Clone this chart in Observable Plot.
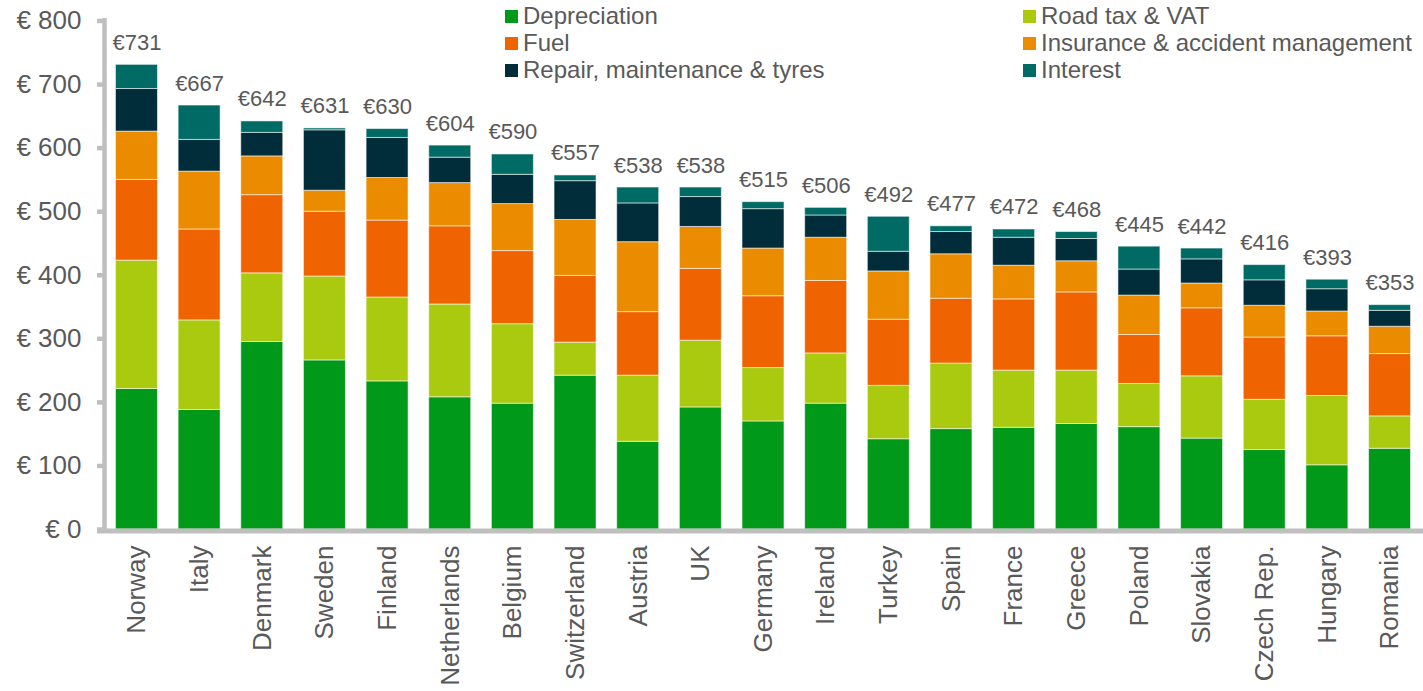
<!DOCTYPE html>
<html>
<head>
<meta charset="utf-8">
<script src="https://cdn.jsdelivr.net/npm/d3@7"></script>
<script src="https://cdn.jsdelivr.net/npm/@observablehq/plot@0.6"></script>
<style>
  html, body { margin: 0; padding: 0; background: #ffffff; }
  #wrap { position: relative; width: 1423px; height: 691px; font-family: "Liberation Sans", Arial, sans-serif; }
  #legend { position: absolute; left: 0; top: 0; width: 1423px; height: 90px; pointer-events: none; }
  .item { position: absolute; display: flex; align-items: center; font-size: 24px; color: #595959; height: 27px; white-space: nowrap; }
  .sw { width: 13px; height: 13px; margin-right: 5px; flex: none; }
</style>
</head>
<body>
<div id="wrap"><div id="legend"></div></div>
<script>
const countries = ["Norway","Italy","Denmark","Sweden","Finland","Netherlands","Belgium","Switzerland","Austria","UK","Germany","Ireland","Turkey","Spain","France","Greece","Poland","Slovakia","Czech Rep.","Hungary","Romania"];
const seriesNames = ["Depreciation","Road tax & VAT","Fuel","Insurance & accident management","Repair, maintenance & tyres","Interest"];
const seriesColors = ["#00991a","#aaca0f","#ef6400","#eb8b00","#012c39","#006b64"];
const depreciation = [221,188,295,266,233,208,198,242,138,192,170,198,142,158,160,166,161,143,125,101,127];
const roadTax      = [202,141,108,132,132,146,125, 52,104,105, 84, 79, 84,103, 90, 84, 68, 98, 79,109, 51];
const fuel         = [127,143,123,102,121,123,115,105,100,113,113,114,104,102,112,123, 77,107, 98, 94, 98];
const insurance    = [ 76, 91, 61, 33, 67, 68, 74, 88,110, 66, 75, 68, 76, 70, 53, 49, 62, 39, 50, 39, 43];
const repair       = [ 67, 50, 37, 95, 63, 40, 46, 61, 61, 47, 62, 35, 31, 35, 44, 35, 41, 38, 40, 35, 25];
const interest     = [ 38, 54, 18,  3, 14, 19, 32,  9, 25, 15, 11, 12, 55,  9, 13, 11, 36, 17, 24, 15,  9];
const totals       = [731,667,642,631,630,604,590,557,538,538,515,506,492,477,472,468,445,442,416,393,353];
const yTicks = [0,100,200,300,400,500,600,700,800];
// legend layout: column 1 then column 2
const legendCol1 = ["Depreciation","Fuel","Repair, maintenance & tyres"];
const legendCol2 = ["Road tax & VAT","Insurance & accident management","Interest"];

const seriesValues = [depreciation, roadTax, fuel, insurance, repair, interest];
const long = [];
seriesNames.forEach((s, si) => {
  countries.forEach((c, ci) => long.push({country: c, series: s, value: seriesValues[si][ci]}));
});
const totalRows = countries.map((c, i) => ({country: c, total: totals[i]}));

const axisColor = "#bfbfbf";
const textColor = "#595959";

const chart = Plot.plot({
  width: 1423,
  height: 691,
  marginLeft: 105,
  marginRight: 2,
  marginTop: 20.5,
  marginBottom: 162,
  style: {fontFamily: '"Liberation Sans", Arial, sans-serif', background: "transparent"},
  x: {domain: countries, paddingInner: 0.33, paddingOuter: 0.167, round: false, label: null},
  y: {domain: [0, 800], label: null},
  color: {domain: seriesNames, range: seriesColors},
  marks: [
    Plot.barY(long, {x: "country", y: "value", fill: "series", order: seriesNames,
      stroke: "#ffffff", strokeOpacity: 0.55, strokeWidth: 1}),
    Plot.text(totalRows, {x: "country", y: "total", text: d => "€" + d.total,
      lineAnchor: "bottom", dy: -15, fontSize: 22, fill: textColor}),
    Plot.axisY({ticks: yTicks, tickFormat: d => "€ " + d, tickSize: 8, tickPadding: 16,
      stroke: axisColor, strokeWidth: 4.5, fill: textColor, fontSize: 26, label: null}),
    Plot.axisX({tickRotate: -90, tickSize: 0, tickPadding: 16, fill: textColor, fontSize: 26, label: null}),
    Plot.ruleY([0], {stroke: axisColor, strokeWidth: 5, dy: 1.5, insetLeft: -8, insetRight: -2})
  ]
});

// vertical axis line at the left edge of the x range
const xs = chart.scale("x");
const ys = chart.scale("y");
d3.select(chart).append("line")
  .attr("x1", xs.range[0] - 0.5).attr("x2", xs.range[0] - 0.5)
  .attr("y1", ys.apply(800) - 2.5).attr("y2", ys.apply(0) + 4)
  .attr("stroke", axisColor).attr("stroke-width", 4.5);

document.getElementById("wrap").prepend(chart);

const legend = document.getElementById("legend");
function addItems(names, left) {
  names.forEach((n, i) => {
    const div = document.createElement("div");
    div.className = "item";
    div.style.left = left + "px";
    div.style.top = (2.5 + i * 27) + "px";
    const sw = document.createElement("span");
    sw.className = "sw";
    sw.style.background = seriesColors[seriesNames.indexOf(n)];
    const t = document.createElement("span");
    t.textContent = n;
    div.appendChild(sw); div.appendChild(t);
    legend.appendChild(div);
  });
}
addItems(legendCol1, 505);
addItems(legendCol2, 1023);
</script>
</body>
</html>
